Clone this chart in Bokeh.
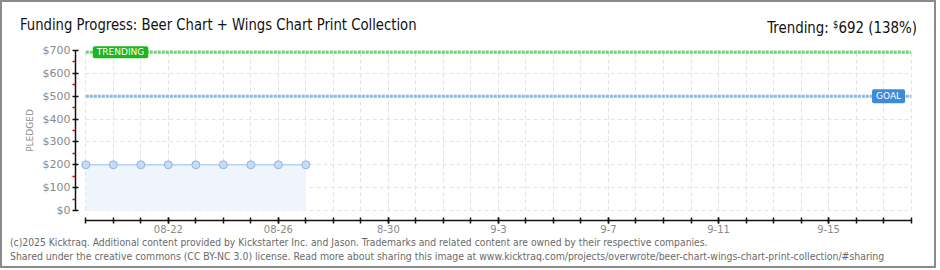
import pandas as pd
from bokeh.plotting import figure
from bokeh.layouts import column
from bokeh.models import (Range1d, FixedTicker, PrintfTickFormatter, Label, Div,
                          ColumnDataSource, DatetimeAxis, LinearAxis, Grid)
from bokeh.embed import file_html
from bokeh.resources import INLINE

# ---------------- data ----------------
YEAR = "2025"
dates = ["08-19", "08-20", "08-21", "08-22", "08-23", "08-24", "08-25", "08-26", "08-27"]
pledged = [200, 200, 200, 200, 200, 200, 200, 200, 200]
goal = 500
trending = 692
trending_pct = 138
campaign_start = "08-19"
campaign_end = "09-18"
tick_dates = ["08-22", "08-26", "08-30", "09-03", "09-07", "09-11", "09-15"]
tick_labels = ["08-22", "08-26", "8-30", "9-3", "9-7", "9-11", "9-15"]
y_ticks = [0, 100, 200, 300, 400, 500, 600, 700]
y_minor_ticks = [50, 150, 250, 350, 450, 550, 650]
title = "Funding Progress: Beer Chart + Wings Chart Print Collection"
footer1 = ("(c)2025 Kicktraq. Additional content provided by Kickstarter Inc. and Jason. "
           "Trademarks and related content are owned by their respective companies.")
footer2 = ("Shared under the creative commons (CC BY-NC 3.0) license. Read more about sharing this "
           "image at www.kicktraq.com/projects/overwrote/beer-chart-wings-chart-print-collection/#sharing")

DAY = 86400000.0


def ms(s):
    return pd.Timestamp(f"{YEAR}-{s}").value / 1e6


x_dates = [ms(d) for d in dates]
start = ms(campaign_start)
end = ms(campaign_end)
all_days = [start + i * DAY for i in range(int(round((end - start) / DAY)) + 1)]
major = [ms(d) for d in tick_dates]

FONT = "'DejaVu Sans Condensed', 'DejaVu Sans', sans-serif"
AXFONT = "DejaVu Sans"
W = 936
H_HEAD, H_FIG, H_FOOT = 40, 196, 32

p = figure(width=W, height=H_FIG,
           x_range=Range1d(start - 0.3744 * DAY, start + 30.16 * DAY),
           y_range=Range1d(-43.75, 743.75),
           x_axis_type=None, y_axis_type=None,
           min_border_left=75, min_border_right=W - 915, min_border_top=0, min_border_bottom=16,
           toolbar_location=None, output_backend="svg", margin=0,
           outline_line_color=None, background_fill_color="white", border_fill_color="white")

# axes
xaxis = DatetimeAxis(ticker=FixedTicker(ticks=major, minor_ticks=all_days),
                     major_label_overrides={m: l for m, l in zip(major, tick_labels)},
                     bounds=(start, end))
xaxis.axis_line_color = "#111"
xaxis.axis_line_width = 1.5
xaxis.major_tick_line_color = "#111"
xaxis.minor_tick_line_color = "#111"
xaxis.major_tick_line_width = 1.5
xaxis.minor_tick_line_width = 1.5
xaxis.major_tick_in = 3
xaxis.major_tick_out = 3
xaxis.minor_tick_in = 3
xaxis.minor_tick_out = 3
xaxis.major_label_standoff = 1
xaxis.major_label_text_font = AXFONT
xaxis.major_label_text_font_size = "10px"
xaxis.major_label_text_color = "#8a8a8a"
p.add_layout(xaxis, "below")

yaxis = LinearAxis(ticker=FixedTicker(ticks=y_ticks, minor_ticks=y_minor_ticks),
                   formatter=PrintfTickFormatter(format="$%d"),
                   bounds=(y_ticks[0], y_ticks[-1]), axis_label="PLEDGED")
yaxis.axis_line_color = "#111"
yaxis.axis_line_width = 1.5
yaxis.major_tick_line_color = "#111"
yaxis.major_tick_line_width = 1.5
yaxis.major_tick_in = 3
yaxis.major_tick_out = 3
yaxis.minor_tick_in = 0
yaxis.minor_tick_out = 3
yaxis.minor_tick_line_color = "#e00000"
yaxis.minor_tick_line_width = 1.5
yaxis.major_label_standoff = 2
yaxis.major_label_text_font = AXFONT
yaxis.major_label_text_font_size = "11px"
yaxis.major_label_text_color = "#8a8a8a"
yaxis.axis_label_text_font = AXFONT
yaxis.axis_label_text_font_size = "9px"
yaxis.axis_label_text_font_style = "normal"
yaxis.axis_label_text_color = "#8a8a8a"
yaxis.axis_label_standoff = 5
p.add_layout(yaxis, "left")

# grids
xgrid = Grid(dimension=0, ticker=FixedTicker(ticks=major, minor_ticks=all_days),
             grid_line_color="#e3e3e3", grid_line_dash="4 3",
             minor_grid_line_color="#e3e3e3", minor_grid_line_dash="4 3",
             cross_bounds=(y_ticks[0], y_ticks[-1]))
ygrid = Grid(dimension=1, ticker=FixedTicker(ticks=y_ticks),
             grid_line_color="#e3e3e3", grid_line_dash="4 3",
             cross_bounds=(start, end))
p.add_layout(xgrid)
p.add_layout(ygrid)

# data
src = ColumnDataSource(dict(x=x_dates, y=pledged, y0=[0] * len(pledged)))
p.varea(x="x", y1="y0", y2="y", source=src, fill_color="#eef5fd")
p.line(x="x", y="y", source=src, line_color="#b7d1ef", line_width=1.5)
p.scatter(x="x", y="y", source=src, size=8, fill_color="#c6dcf6", line_color="#92b4dd", line_width=1)

# trending & goal lines
p.line(x=[start, end], y=[trending, trending], line_color="#6fd36f", line_width=3, line_dash="3 1")
p.line(x=[start, end], y=[goal, goal], line_color="#8cb8e6", line_width=3, line_dash="3 1")

p.add_layout(Label(x=start, y=trending, x_offset=7, text="TRENDING",
                   text_font=AXFONT, text_font_size="9px", text_color="white",
                   text_align="left", text_baseline="middle",
                   background_fill_color="#1cb51c", border_radius=2,
                   padding=dict(left=4, right=4, top=1, bottom=1)))
p.add_layout(Label(x=end, y=goal, x_offset=-6, text="GOAL",
                   text_font=AXFONT, text_font_size="9px", text_color="white",
                   text_align="right", text_baseline="middle",
                   background_fill_color="#3d8bd8", border_radius=2,
                   padding=dict(left=4, right=4, top=2, bottom=2)))

# header and footer texts
header_html = (
    f'<div style="position:relative;width:{W}px;height:{H_HEAD}px;font-family:{FONT};color:#111;">'
    f'<div style="position:absolute;left:20px;top:16.5px;font-size:16px;line-height:16px;white-space:nowrap;'
    f'transform:scaleX(0.917);transform-origin:left center;">{title}</div>'
    f'<div style="position:absolute;right:19px;top:16.5px;font-size:16px;line-height:16px;white-space:nowrap;'
    f'transform:scaleX(0.93);transform-origin:right center;">'
    f'Trending: <span style="font-size:10px;vertical-align:5px;">$</span>{trending} ({trending_pct}%)</div>'
    f'</div>')
footer_html = (
    f'<div style="position:relative;width:{W}px;height:{H_FOOT}px;font-family:{FONT};color:#6a6a6a;'
    f'font-size:11px;line-height:11px;">'
    f'<div style="position:absolute;left:10px;top:1px;white-space:nowrap;'
    f'transform:scaleX(0.935);transform-origin:left center;">{footer1}</div>'
    f'<div style="position:absolute;left:10px;top:15px;white-space:nowrap;'
    f'transform:scaleX(0.944);transform-origin:left center;">{footer2}</div>'
    f'<div style="position:absolute;left:0px;top:-{H_HEAD + H_FIG}px;width:{W}px;'
    f'height:{H_HEAD + H_FIG + H_FOOT}px;box-sizing:border-box;border:2px solid #8a8a8a;'
    f'pointer-events:none;"></div>'
    f'</div>')
header = Div(text=header_html, width=W, height=H_HEAD, margin=0, disable_math=True)
footer = Div(text=footer_html, width=W, height=H_FOOT, margin=0, disable_math=True,
             styles={"overflow": "visible", "z-index": "10"})

layout = column(header, p, footer, spacing=0, margin=0)

open("out.html", "w").write(file_html(layout, INLINE))
